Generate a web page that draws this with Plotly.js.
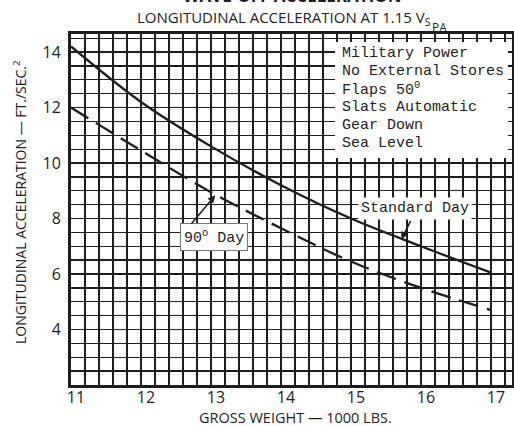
<!DOCTYPE html>
<html>
<head>
<meta charset="utf-8">
<script src="https://cdn.plot.ly/plotly-3.0.1.min.js"></script>
<style>html,body{margin:0;padding:0;background:#fff;}#chart{width:514px;height:426px;}</style>
</head>
<body>
<div id="chart"></div>
<script>
// Gross weight (1000 lbs)
const grossWeight = [11, 12, 13, 14, 15, 16, 17];
// Longitudinal acceleration (ft/sec^2)
const standardDay = [14.2, 12.2, 10.6, 9.2, 8.0, 7.0, 6.05];
const ninetyDay = [12.0, 10.45, 8.95, 7.65, 6.45, 5.5, 4.7];
const yTickVals = [4, 6, 8, 10, 12, 14];
const xTickVals = [11, 12, 13, 14, 15, 16, 17];
const conditions = ["Military Power", "No External Stores", "Flaps 50<sup>0</sup>", "Slats Automatic", "Gear Down", "Sea Level"];

const ink = '#1e1e1e';
const sans = 'Open Sans, DejaVu Sans, sans-serif';
const mono = 'Liberation Mono, Courier New, monospace';

const W = 514, H = 426, L = 71, R = 2, T = 34, B = 41;
const pw = W - L - R, ph = H - T - B;
const px = v => (v - L) / pw;
const py = v => (H - B - v) / ph;

const traces = [
  {x: grossWeight, y: standardDay, mode: 'lines', line: {color: ink, width: 2.3, shape: 'spline'}, hoverinfo: 'skip', name: 'Standard Day'},
  {x: grossWeight, y: ninetyDay, mode: 'lines', line: {color: ink, width: 2.3, shape: 'spline', dash: '20px,9px'}, hoverinfo: 'skip', name: '90° Day'}
];

const annotations = [
  {text: '<b>WAVE-OFF ACCELERATION</b>', xref: 'paper', yref: 'paper', x: px(292), y: py(9), xanchor: 'center', yanchor: 'bottom', showarrow: false, font: {family: sans, size: 17, color: ink}},
  {text: 'LONGITUDINAL ACCELERATION AT 1.15 V<sub>S</sub>', xref: 'paper', yref: 'paper', x: px(135), y: py(18), xanchor: 'left', yanchor: 'middle', showarrow: false, font: {family: sans, size: 15, color: ink}},
  {text: 'PA', xref: 'paper', yref: 'paper', x: px(439), y: py(27), xanchor: 'center', yanchor: 'middle', showarrow: false, font: {family: sans, size: 12, color: ink}},
  {text: 'GROSS WEIGHT — 1000 LBS.', xref: 'paper', yref: 'paper', x: px(295), y: py(417), xanchor: 'center', yanchor: 'middle', showarrow: false, font: {family: sans, size: 14.5, color: ink}},
  {text: 'LONGITUDINAL ACCELERATION — FT./SEC.<sup>2</sup>', textangle: -90, xref: 'paper', yref: 'paper', x: px(20), y: py(202), xanchor: 'center', yanchor: 'middle', showarrow: false, font: {family: sans, size: 14, color: ink}},
  {text: 'Standard Day', xref: 'paper', yref: 'paper', x: px(415), y: py(208), xanchor: 'center', yanchor: 'middle', showarrow: false, bgcolor: '#ffffff', borderpad: 2, font: {family: mono, size: 15, color: ink}},
  {text: '', x: 15.72, y: 7.25, xref: 'x', yref: 'y', showarrow: true, ax: 10, ay: -20, arrowhead: 2, arrowsize: 1, arrowwidth: 1.5, arrowcolor: ink},
  {text: '90<sup>o</sup> Day', xref: 'paper', yref: 'paper', x: px(214), y: py(237), xanchor: 'center', yanchor: 'middle', showarrow: false, bgcolor: '#ffffff', bordercolor: '#777', borderwidth: 1, borderpad: 3, font: {family: mono, size: 15, color: ink}},
  {text: '', x: 13.06, y: 8.84, xref: 'x', yref: 'y', showarrow: true, ax: -25, ay: 30, arrowhead: 2, arrowsize: 1, arrowwidth: 1.5, arrowcolor: ink}
];
const lineY = [53, 71, 89, 107, 125, 143];
conditions.forEach((c, i) => {
  annotations.push({text: c, xref: 'paper', yref: 'paper', x: px(340), y: py(lineY[i]), xanchor: 'left', yanchor: 'middle', showarrow: false, font: {family: mono, size: 15, color: ink}});
});

const layout = {
  width: W, height: H,
  margin: {l: L, r: R, t: T, b: B, pad: 0},
  paper_bgcolor: '#ffffff', plot_bgcolor: '#ffffff',
  showlegend: false,
  font: {family: sans, color: ink},
  xaxis: {
    range: [11, 17.3], tickvals: xTickVals, ticks: '', showgrid: true, gridcolor: ink, gridwidth: 2.2,
    minor: {dtick: 0.2, tick0: 11, showgrid: true, gridcolor: ink, gridwidth: 1.3},
    showline: true, linecolor: ink, linewidth: 3, mirror: true, zeroline: false,
    tickfont: {family: sans, size: 16, color: ink}, ticklabelshift: 5, ticklabelstandoff: -4
  },
  yaxis: {
    range: [2, 14.65], tickvals: yTickVals, ticks: '', showgrid: true, gridcolor: ink, gridwidth: 1.8,
    minor: {dtick: 0.5, tick0: 2, showgrid: true, gridcolor: ink, gridwidth: 1.3},
    showline: true, linecolor: ink, linewidth: 3, mirror: true, zeroline: false,
    tickfont: {family: sans, size: 16, color: ink}, ticklabelstandoff: 4
  },
  shapes: [
    {type: 'rect', xref: 'paper', yref: 'paper', x0: px(335), x1: px(508), y0: py(158), y1: py(42), fillcolor: '#ffffff', line: {width: 0}, layer: 'above'}
  ],
  annotations: annotations
};

Plotly.newPlot('chart', traces, layout, {staticPlot: true, displayModeBar: false});
</script>
</body>
</html>
